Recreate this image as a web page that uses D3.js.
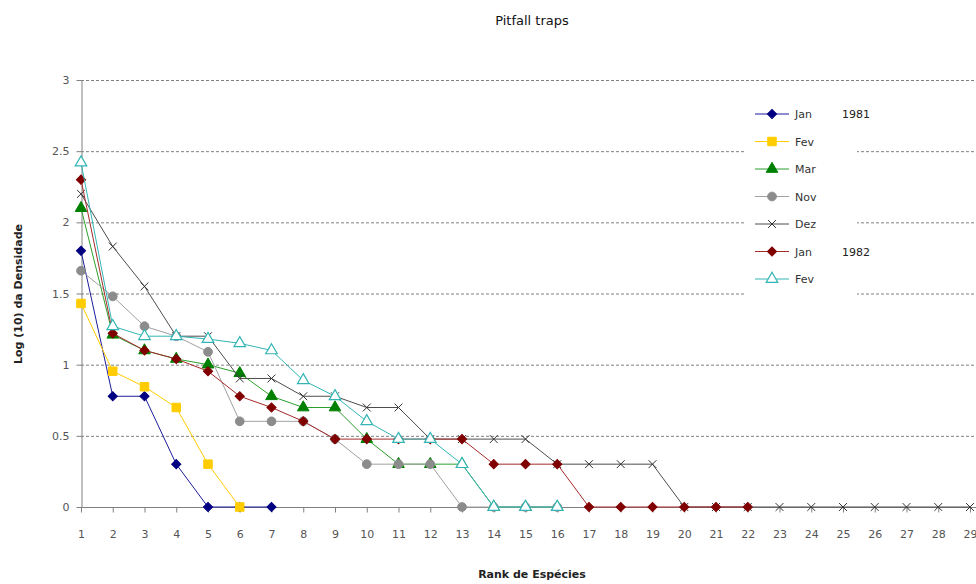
<!DOCTYPE html>
<html>
<head>
<meta charset="utf-8">
<script src="https://cdn.jsdelivr.net/npm/d3@7"></script>
<style>
  body { margin: 0; background: #fff; }
  svg text { font-family: "DejaVu Sans", Verdana, sans-serif; }
</style>
</head>
<body>
<div id="visualization"></div>
<script>
// ranks on the x axis
var ranks = d3.range(1, 30);
var yTicks = [0, 0.5, 1, 1.5, 2, 2.5, 3];

// log10 density per rank, one array per sampling month
var jan81 = [1.8, 0.778, 0.778, 0.301, 0, 0, 0];
var fev81 = [1.43, 0.954, 0.845, 0.699, 0.301, 0];
var mar81 = [2.1, 1.21, 1.1, 1.04, 1.0, 0.94, 0.778, 0.699, 0.699, 0.477, 0.301, 0.301, 0.301, 0, 0, 0];
var nov81 = [1.66, 1.48, 1.27, 1.2, 1.09, 0.602, 0.602, 0.602, 0.477, 0.301, 0.301, 0.301, 0, 0, 0, 0];
var dez81 = [2.2, 1.83, 1.55, 1.2, 1.2, 0.903, 0.903, 0.778, 0.778, 0.699, 0.699, 0.477, 0.477, 0.477, 0.477,
             0.301, 0.301, 0.301, 0.301, 0, 0, 0, 0, 0, 0, 0, 0, 0, 0];
var jan82 = [2.3, 1.22, 1.1, 1.04, 0.954, 0.778, 0.699, 0.602, 0.477, 0.477, 0.477, 0.477, 0.477,
             0.301, 0.301, 0.301, 0, 0, 0, 0, 0, 0];
var fev82 = [2.42, 1.27, 1.2, 1.2, 1.18, 1.15, 1.1, 0.89, 0.778, 0.602, 0.477, 0.477, 0.301, 0, 0, 0];

var seriesNames = ['Jan', 'Fev', 'Mar', 'Nov', 'Dez', 'Jan', 'Fev'];
var seriesYears = ['1981', '', '', '', '', '1982', ''];
var seriesValues = [jan81, fev81, mar81, nov81, dez81, jan82, fev82];

var styles = [
    {line: '#1c1c9c', fill: '#000080', stroke: '#000080', shape: 'diamond'},
    {line: '#ffcc00', fill: '#ffcc00', stroke: '#ffcc00', shape: 'square'},
    {line: '#2ca02c', fill: '#008000', stroke: '#008000', shape: 'triangle'},
    {line: '#a0a0a0', fill: '#8c8c8c', stroke: '#8c8c8c', shape: 'circle'},
    {line: '#4d4d4d', fill: 'none', stroke: '#333', shape: 'x'},
    {line: '#a52a2a', fill: '#800000', stroke: '#800000', shape: 'diamond'},
    {line: '#33b5b5', fill: '#fff', stroke: '#33b5b5', shape: 'opentri'}
];

var W = 976, H = 584;
var svg = d3.select('#visualization').append('svg')
    .attr('width', W).attr('height', H);

var x = d3.scaleLinear().domain([1, 29]).range([81, 970]);
var y = d3.scaleLinear().domain([0, 3]).range([507, 80]);

// gridlines
svg.append('g').selectAll('line')
    .data(yTicks.filter(function(d) { return d > 0; }))
    .enter().append('line')
    .attr('x1', x(1)).attr('x2', W)
    .attr('y1', function(d) { return y(d) + 0.5; })
    .attr('y2', function(d) { return y(d) + 0.5; })
    .attr('stroke', '#808080')
    .attr('stroke-dasharray', '3,2');

// y axis
var yAxis = svg.append('g')
    .attr('transform', 'translate(' + (x(1) + 0.5) + ',0)')
    .call(d3.axisLeft(y).tickValues(yTicks).tickSize(5).tickSizeOuter(0)
        .tickFormat(function(d) { return String(d); }));
yAxis.select('.domain').attr('stroke', '#808080');
yAxis.selectAll('line').attr('stroke', '#808080');
yAxis.selectAll('text').attr('fill', '#555').style('font-size', '11px').attr('x', -12);

// x axis
var xAxis = svg.append('g')
    .attr('transform', 'translate(0,' + (y(0) + 0.5) + ')')
    .call(d3.axisBottom(x).tickValues(ranks).tickSize(5).tickSizeOuter(0)
        .tickFormat(d3.format('d')));
xAxis.select('.domain').attr('d', 'M' + x(1) + ',0H' + W).attr('stroke', '#808080');
xAxis.selectAll('line').attr('stroke', '#808080');
xAxis.selectAll('text').attr('fill', '#555').style('font-size', '11px').attr('y', 23);

function drawMarker(g, shape, st) {
    var sym, rot = 0;
    if (shape === 'diamond') { sym = d3.symbol(d3.symbolSquare, 42); rot = 45; }
    else if (shape === 'square') sym = d3.symbol(d3.symbolSquare, 72);
    else if (shape === 'triangle' || shape === 'opentri') sym = d3.symbol(d3.symbolTriangle, 58);
    else if (shape === 'circle') sym = d3.symbol(d3.symbolCircle, 60);
    else sym = d3.symbol(d3.symbolX, 42);
    g.append('path')
        .attr('d', sym)
        .attr('transform', 'rotate(' + rot + ')')
        .attr('fill', st.fill)
        .attr('stroke', st.stroke)
        .attr('stroke-width', shape === 'opentri' ? 1.2 : 1);
}

var line = d3.line()
    .x(function(d, i) { return x(ranks[i]); })
    .y(function(d) { return y(d); });

seriesValues.forEach(function(vals, s) {
    var st = styles[s];
    var g = svg.append('g');
    g.append('path')
        .datum(vals)
        .attr('d', line)
        .attr('fill', 'none')
        .attr('stroke', st.line)
        .attr('stroke-width', 1);
    g.selectAll('g.pt')
        .data(vals)
        .enter().append('g')
        .attr('class', 'pt')
        .attr('transform', function(d, i) { return 'translate(' + x(ranks[i]) + ',' + y(d) + ')'; })
        .each(function() { drawMarker(d3.select(this), st.shape, st); });
});

// legend with white background over gridlines
var legend = svg.append('g');
legend.append('rect')
    .attr('x', 745).attr('y', 96).attr('width', 112).attr('height', 208)
    .attr('fill', '#fff');
seriesNames.forEach(function(name, i) {
    var ly = 114 + i * 27.5;
    var st = styles[i];
    legend.append('line')
        .attr('x1', 755).attr('x2', 789).attr('y1', ly).attr('y2', ly)
        .attr('stroke', st.line);
    var mg = legend.append('g').attr('transform', 'translate(772,' + ly + ')');
    drawMarker(mg, st.shape, st);
    legend.append('text')
        .attr('x', 795).attr('y', ly + 4)
        .attr('fill', '#333').style('font-size', '11px')
        .text(name);
    if (seriesYears[i]) {
        legend.append('text')
            .attr('x', 842).attr('y', ly + 4)
            .attr('fill', '#222').style('font-size', '11px')
            .text(seriesYears[i]);
    }
});

// titles
svg.append('text')
    .attr('text-anchor', 'middle')
    .attr('x', 532).attr('y', 25)
    .attr('fill', '#111')
    .style('font-size', '13px')
    .text('Pitfall traps');

svg.append('text')
    .attr('text-anchor', 'middle')
    .attr('x', 532).attr('y', 578)
    .attr('fill', '#222')
    .style('font-size', '11px').style('font-weight', 'bold')
    .text('Rank de Espécies');

svg.append('text')
    .attr('text-anchor', 'middle')
    .attr('transform', 'translate(22,294) rotate(-90)')
    .attr('fill', '#222')
    .style('font-size', '11px').style('font-weight', 'bold')
    .text('Log (10) da Densidade');
</script>
</body>
</html>
